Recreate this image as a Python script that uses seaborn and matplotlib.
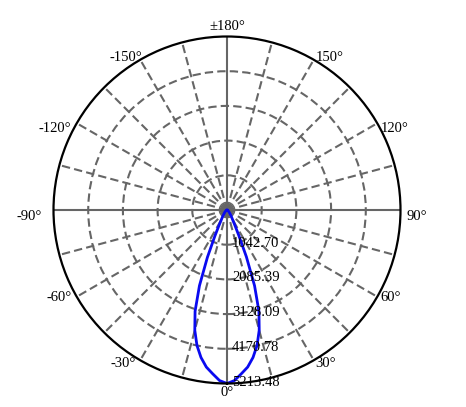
import numpy as np
import pandas as pd
import matplotlib
matplotlib.use("Agg")
import matplotlib.pyplot as plt
import seaborn as sns

# ---- data ----
angles_deg = [0, 2.5, 5, 7.5, 10, 12.5, 15, 17.5, 20, 22.5, 25, 27.5, 30, 35, 40, 45, 50,
              60, 70, 80, 90, 120, 150, 180]
intensity_right = [5213.48, 5130, 4940, 4760, 4500, 4170, 3740, 3190, 2420, 1520, 820, 500, 340,
                   210, 130, 90, 60, 35, 20, 10, 0, 0, 0, 0]
intensity_left = [5213.48, 5130, 4940, 4760, 4500, 4170, 3740, 3190, 2420, 1540, 860, 520, 350,
                  210, 130, 90, 60, 35, 20, 10, 0, 0, 0, 0]
ring_values = [1042.70, 2085.39, 3128.09, 4170.78, 5213.48]
ring_labels = ["1042.70", "2085.39", "3128.09", "4170.78", "5213.48"]
tick_angles = [0, 30, 60, 90, 120, 150, 180, -150, -120, -90, -60, -30]
tick_labels = ["0°", "30°", "60°", "90°", "120°", "150°", "±180°", "-150°", "-120°", "-90°", "-60°", "-30°"]

# closed curve: left half (negative angles) from -180 to 0, then right half 0..180
theta_deg = [-a for a in angles_deg[::-1]] + angles_deg[1:]
values = intensity_left[::-1] + intensity_right[1:]
df = pd.DataFrame({"theta": np.deg2rad(theta_deg), "cd": values})

sns.set_theme(style="white")
plt.rcParams["font.family"] = ["Liberation Serif", "DejaVu Serif"]

fig = plt.figure(figsize=(4.66, 4.07), dpi=100, facecolor="white")
ax = fig.add_axes([53.5 / 466, (407 - 383.5) / 407, 347 / 466, 347 / 407], projection="polar")
ax.set_facecolor("white")
ax.set_theta_zero_location("S")
ax.set_theta_direction(1)
rmax = ring_values[-1]
ax.set_ylim(0, rmax)

# grid
ax.set_xticks(np.deg2rad(np.arange(0, 360, 15)))
ax.set_xticklabels([])
ax.set_yticks(ring_values[:-1])
ax.set_yticklabels([])
ax.grid(True, color="#666666", linestyle=(0, (4, 2)), linewidth=1.5)
for i, gl in enumerate(ax.xaxis.get_gridlines()):
    if (i * 15) % 90 == 0:
        gl.set_linestyle("-")
        gl.set_linewidth(1.5)
ax.spines["polar"].set_color("black")
ax.spines["polar"].set_linewidth(1.6)
ax.tick_params(axis="both", length=0, pad=0)

sns.lineplot(data=df, x="theta", y="cd", sort=False, estimator=None, ax=ax,
             color="#0a0af0", linewidth=2.0, legend=False)
ax.set_xlabel("")
ax.set_ylabel("")
ax.set_ylim(0, rmax)

# angle labels (offsets in pixels from circle point)
offsets = {
    0: ("center", 0, -9.5), 30: ("left", 2, -3), 60: ("left", 3, -1), 90: ("left", 6, -7),
    120: ("left", 3, -5), 150: ("left", 2, 2), 180: ("center", 0, 9.5),
    -150: ("right", 2, 2), -120: ("right", -6, -5), -90: ("right", -12, -7),
    -60: ("right", -5, -1), -30: ("right", -4, -3),
}
for a, lab in zip(tick_angles, tick_labels):
    ha, dx, dy = offsets[a]
    ax.annotate(lab, xy=(np.deg2rad(a), rmax), xytext=(dx, dy), textcoords="offset pixels",
                ha=ha, va="center", fontsize=10.5, color="black", annotation_clip=False)

for v, lab in zip(ring_values, ring_labels):
    ax.annotate(lab, xy=(0, v), xytext=(5, 1.5), textcoords="offset pixels",
                ha="left", va="center", fontsize=10.5, color="black", annotation_clip=False)

fig.savefig("out.png", dpi=100, facecolor="white")
